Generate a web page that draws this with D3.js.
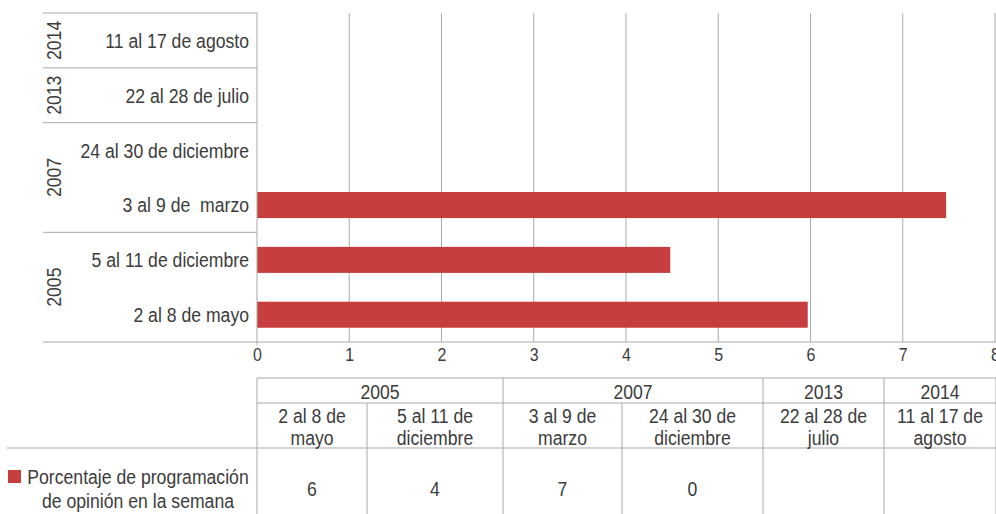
<!DOCTYPE html>
<html>
<head>
<meta charset="utf-8">
<script src="https://cdn.jsdelivr.net/npm/d3@7"></script>
<style>
  body { margin: 0; background: #fff; }
  svg { display: block; font-family: "Liberation Sans", Arial, sans-serif; }
  text { fill: #3c3c3c; white-space: pre; }
  .grid line { stroke: #ababab; stroke-width: 1; }
  .axis path, .axis line { display: none; }
</style>
</head>
<body>
<svg id="chart"></svg>
<script>
// Data, bottom to top as in the chart
const years = ["2005", "2005", "2007", "2007", "2013", "2014"];
const weeks = ["2 al 8 de mayo", "5 al 11 de diciembre", "3 al 9 de  marzo", "24 al 30 de diciembre", "22 al 28 de julio", "11 al 17 de agosto"];
const values = [5.97, 4.48, 7.47, 0, null, null];
const tableValues = ["6", "4", "7", "0", "", ""];
const xTicks = [0, 1, 2, 3, 4, 5, 6, 7, 8];
const seriesName = ["Porcentaje de programación", "de opinión en la semana"];

const W = 996, H = 514;
const plot = { left: 257, right: 995, top: 13, bottom: 342 };
const lineLeft = 43;
const barColor = "#c63e3e";
const lineColor = "#a9a9a9";
const SX = 0.84;   // squeeze text to look like a condensed face

const svg = d3.select("#chart").attr("width", W).attr("height", H);

// put a text at (px, py) and squeeze it horizontally around that point
function place(sel, px, py) {
  sel.attr("x", 0).attr("y", 0)
     .attr("transform", (d, i) => `translate(${px(d, i)},${py(d, i)}) scale(${SX},1)`);
}

// Scales
const x = d3.scaleLinear().domain([0, 8]).range([plot.left, plot.right]);
const y = d3.scaleBand()
    .domain(d3.range(weeks.length).reverse())
    .range([plot.top, plot.bottom]);

// Vertical gridlines
svg.append("g").attr("class", "grid")
  .selectAll("line")
  .data(xTicks.slice(1))
  .join("line")
    .attr("x1", d => x(d)).attr("x2", d => x(d))
    .attr("y1", plot.top).attr("y2", plot.bottom);

// Bars
svg.append("g")
  .selectAll("rect")
  .data(values.map((v, i) => ({ v, i })).filter(d => d.v))
  .join("rect")
    .attr("x", x(0))
    .attr("y", d => y(d.i) + y.bandwidth() * 0.265)
    .attr("width", d => x(d.v) - x(0))
    .attr("height", y.bandwidth() * 0.475)
    .attr("fill", barColor);

// Axis lines
svg.append("line")
    .attr("x1", x(0)).attr("x2", x(0))
    .attr("y1", plot.top).attr("y2", plot.bottom + 3)
    .attr("stroke", lineColor);
svg.append("line")
    .attr("x1", lineLeft).attr("x2", W)
    .attr("y1", plot.bottom).attr("y2", plot.bottom)
    .attr("stroke", lineColor);

// Group separators on the left (year boundaries)
const groupEdges = [0];
years.forEach((yr, i) => { if (i > 0 && yr !== years[i - 1]) groupEdges.push(i); });
groupEdges.push(years.length);
svg.append("g")
  .selectAll("line")
  .data(groupEdges.slice(1))
  .join("line")
    .attr("x1", lineLeft).attr("x2", plot.left)
    .attr("y1", d => y(d - 1)).attr("y2", d => y(d - 1))
    .attr("stroke", lineColor);

// Week labels
svg.append("g")
  .selectAll("text")
  .data(weeks)
  .join("text")
    .call(place, () => plot.left - 8, (d, i) => y(i) + y.bandwidth() / 2)
    .attr("text-anchor", "end")
    .attr("dominant-baseline", "central")
    .style("font-size", "21px")
    .text(d => d);

// Year labels, rotated
const groups = groupEdges.slice(0, -1).map((s, k) => ({ year: years[s], from: s, to: groupEdges[k + 1] }));
svg.append("g")
  .selectAll("text")
  .data(groups)
  .join("text")
    .attr("transform", d => {
      const cy = (y(d.from) + y.bandwidth() + y(d.to - 1)) / 2;
      return `translate(53,${cy}) rotate(-90) scale(${SX},1)`;
    })
    .attr("text-anchor", "middle")
    .attr("dominant-baseline", "central")
    .style("font-size", "21px")
    .text(d => d.year);

// X axis labels
const xAxis = d3.axisBottom(x).tickValues(xTicks).tickFormat(d3.format("d")).tickSize(0).tickPadding(6);
svg.append("g")
    .attr("class", "axis")
    .attr("transform", `translate(0,${plot.bottom})`)
    .call(xAxis)
  .selectAll("text")
    .attr("transform", `scale(${SX},1)`)
    .style("font-size", "19px")
    .style("font-family", "inherit")
    .attr("fill", "#3c3c3c");

// Data table below
const colEdges = [257, 367, 503, 622, 763, 884, 996];
const rows = { top: 378, year: 403, head: 448, bottom: 514 };
const colMid = i => (colEdges[i] + colEdges[i + 1]) / 2;
const table = svg.append("g");

// Horizontal lines
table.append("line").attr("x1", plot.left).attr("x2", W).attr("y1", rows.top).attr("y2", rows.top).attr("stroke", lineColor);
table.append("line").attr("x1", plot.left).attr("x2", W).attr("y1", rows.year).attr("y2", rows.year).attr("stroke", lineColor);
table.append("line").attr("x1", 7).attr("x2", W).attr("y1", rows.head).attr("y2", rows.head).attr("stroke", lineColor);

// Vertical lines: full height at year boundaries, lower part otherwise
table.selectAll("line.v")
  .data(colEdges)
  .join("line")
    .attr("class", "v")
    .attr("x1", d => d).attr("x2", d => d)
    .attr("y1", (d, i) => (i === 0 || i === colEdges.length - 1 || groupEdges.includes(i)) ? rows.top : rows.year)
    .attr("y2", rows.bottom)
    .attr("stroke", lineColor);

// Year headers
table.selectAll("text.yr")
  .data(groups)
  .join("text")
    .attr("class", "yr")
    .call(place, d => (colEdges[d.from] + colEdges[d.to]) / 2, () => (rows.top + rows.year) / 2 + 1)
    .attr("text-anchor", "middle")
    .attr("dominant-baseline", "central")
    .style("font-size", "21px")
    .text(d => d.year);

// Week headers, split on the last " de "
const headLines = weeks.flatMap((w, i) => {
  const s = w.replace(/\s+/g, " ");
  const k = s.lastIndexOf(" de ");
  return [{ t: s.slice(0, k + 3), col: i, line: 0 }, { t: s.slice(k + 4), col: i, line: 1 }];
});
table.selectAll("text.wk")
  .data(headLines)
  .join("text")
    .attr("class", "wk")
    .call(place, d => colMid(d.col), d => rows.year + 12 + d.line * 22)
    .attr("text-anchor", "middle")
    .attr("dominant-baseline", "central")
    .style("font-size", "21px")
    .text(d => d.t);

// Values
table.selectAll("text.val")
  .data(tableValues)
  .join("text")
    .attr("class", "val")
    .call(place, (d, i) => colMid(i), () => 488)
    .attr("text-anchor", "middle")
    .attr("dominant-baseline", "central")
    .style("font-size", "21px")
    .text(d => d);

// Legend
table.append("rect")
    .attr("x", 8).attr("y", 470).attr("width", 13).attr("height", 13)
    .attr("fill", barColor);
table.selectAll("text.leg")
  .data(seriesName)
  .join("text")
    .attr("class", "leg")
    .call(place, () => 138, (d, i) => 476 + i * 24)
    .attr("text-anchor", "middle")
    .attr("dominant-baseline", "central")
    .style("font-size", "21px")
    .text(d => d);
</script>
</body>
</html>
